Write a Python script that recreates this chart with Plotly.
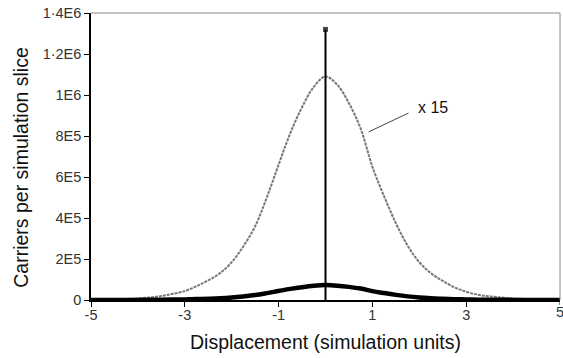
import plotly.graph_objects as go

# Carrier distribution across the simulation slices
displacement = [-5.0, -4.75, -4.5, -4.25, -4.0, -3.75, -3.5, -3.25, -3.0, -2.75,
                -2.5, -2.25, -2.0, -1.75, -1.5, -1.25, -1.0, -0.75, -0.5, -0.25,
                0.0, 0.25, 0.5, 0.75, 1.0, 1.25, 1.5, 1.75, 2.0, 2.25,
                2.5, 2.75, 3.0, 3.25, 3.5, 3.75, 4.0, 4.25, 4.5, 4.75, 5.0]
carriers = [70, 130, 200, 330, 530, 800, 1300, 2000, 2900, 4500,
            6400, 8700, 12300, 17500, 24000, 33400, 44000, 54300, 62700, 69300,
            72700, 70000, 64000, 55700, 43300, 33700, 25000, 17700, 12300, 8700,
            6200, 4100, 2700, 1700, 1200, 800, 530, 330, 200, 130, 70]
scale_factor = 15
carriers_scaled = [v * scale_factor for v in carriers]

# Central spike
spike_x = [0.0, 0.0]
spike_y = [0, 1320000]

x_ticks = [-5, -3, -1, 1, 3, 5]
x_ticktext = ["-5", "-3", "-1", "1", "3", "5"]
y_tickvals = [0, 200000, 400000, 600000, 800000, 1000000, 1200000, 1400000]
y_ticktext = ["0", "2E5", "4E5", "6E5", "8E5", "1E6", "1·2E6", "1·4E6"]

font_family = "Liberation Sans, Arial, sans-serif"
tick_font = dict(family=font_family, size=14.5, color="#333333")

fig = go.Figure()

fig.add_trace(go.Scatter(
    x=displacement, y=carriers_scaled, mode="lines",
    line=dict(color="#777777", width=2, dash="3px,1px", shape="spline"),
    hoverinfo="skip", showlegend=False,
))
fig.add_trace(go.Scatter(
    x=displacement, y=carriers, mode="lines",
    line=dict(color="black", width=4.5, shape="spline"),
    showlegend=False,
))
fig.add_trace(go.Scatter(
    x=spike_x, y=spike_y, mode="lines+markers",
    line=dict(color="black", width=2),
    marker=dict(symbol="square", size=[0, 5], color="black",
                line=dict(width=0)),
    showlegend=False,
))

# Label for the scaled curve, with leader line
fig.add_annotation(
    x=2.3, y=937000, text="x 15", showarrow=False,
    xanchor="center", yanchor="middle",
    font=dict(family=font_family, size=16, color="#111111"),
)
fig.add_shape(type="line", x0=0.92, y0=820000, x1=1.77, y1=912000,
              line=dict(color="#444444", width=1))

# Rightmost x tick and label sit on the frame edge
fig.add_shape(type="line", x0=x_ticks[-1], x1=x_ticks[-1], xref="x",
              y0=0, y1=-0.017, yref="paper",
              line=dict(color="black", width=1))
fig.add_annotation(
    x=x_ticks[-1], y=0, xref="x", yref="paper", yshift=-12,
    text=x_ticktext[-1], showarrow=False, xanchor="center", yanchor="middle",
    font=tick_font,
)

# Y axis title
fig.add_annotation(
    x=-0.15, y=0.463, xref="paper", yref="paper",
    text="Carriers per simulation slice", textangle=-90, showarrow=False,
    xanchor="center", yanchor="middle",
    font=dict(family=font_family, size=19.5, color="#111111"),
)

# Grey frame on the top and right sides
fig.add_shape(type="line", xref="paper", yref="paper", x0=0, y0=1, x1=1, y1=1,
              line=dict(color="#888888", width=1))
fig.add_shape(type="line", xref="paper", yref="paper", x0=1, y0=0, x1=1, y1=1,
              line=dict(color="#888888", width=1))

fig.update_layout(
    width=563, height=358,
    margin=dict(l=91, r=3, t=13, b=58),
    paper_bgcolor="white", plot_bgcolor="white",
    font=dict(family=font_family),
    xaxis=dict(
        range=[-5, 5], tickvals=x_ticks[:-1], ticktext=x_ticktext[:-1],
        showgrid=False, zeroline=False,
        showline=True, linecolor="black", linewidth=1.5,
        ticks="outside", ticklen=5, tickcolor="black",
        tickfont=tick_font, ticklabelstandoff=-4,
        title=dict(text="Displacement (simulation units)",
                   font=dict(size=19.5, color="#111111"), standoff=13),
    ),
    yaxis=dict(
        range=[0, 1400000], tickvals=y_tickvals, ticktext=y_ticktext,
        showgrid=False, zeroline=False,
        showline=True, linecolor="black", linewidth=1.5,
        ticks="outside", ticklen=5, tickcolor="black",
        tickfont=tick_font,
    ),
)

fig.write_html("out.html")
